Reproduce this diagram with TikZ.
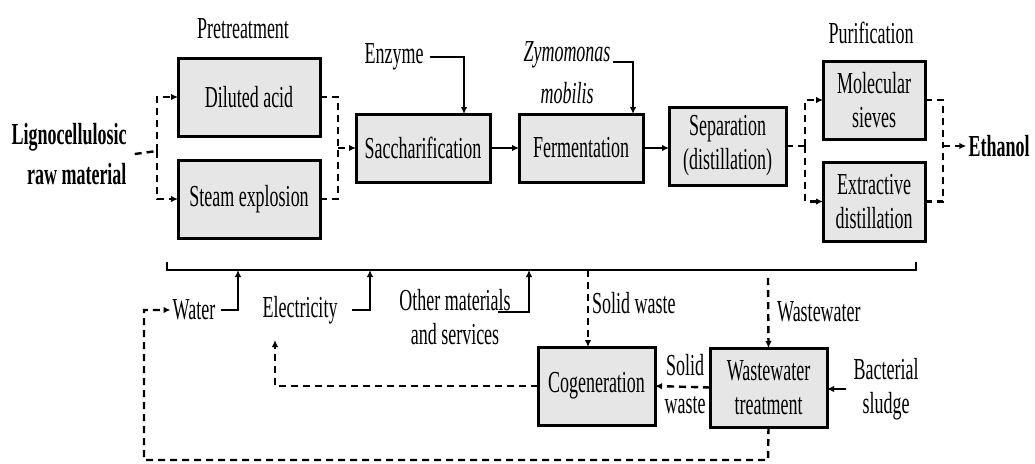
\documentclass[tikz,border=0pt]{standalone}
\usepackage{fontspec}
\setmainfont{Liberation Serif}[FakeStretch=0.59]
\usetikzlibrary{arrows.meta}
\definecolor{boxgray}{RGB}{230,230,230}
\begin{document}
\begin{tikzpicture}[x=1pt,y=-1pt,
  every node/.style={font=\fontsize{30.5}{34}\selectfont, inner sep=2pt},
  pbox/.style={draw, line width=3pt, fill=boxgray, align=center, inner sep=0pt, outer sep=0pt},
  dl/.style={line width=2.4pt, dash pattern=on 7pt off 5pt},
  sl/.style={line width=1.9pt},
  tip/.style={-{Latex[length=7pt,width=6.5pt]}},
  lab/.style={align=center}]
\useasboundingbox (0,0) rectangle (1035,463);

% boxes
\node[pbox, minimum width=142pt, minimum height=78pt] (da) at (249,97) {Diluted acid};
\node[pbox, minimum width=142pt, minimum height=78pt] (se) at (249,199) {Steam explosion};
\node[pbox, minimum width=134pt, minimum height=68pt] (sac) at (423,148) {Saccharification};
\node[pbox, minimum width=124pt, minimum height=68pt] (fer) at (581,148) {Fermentation};
\node[pbox, minimum width=117pt, minimum height=78pt] (sep) at (727.5,146) {Separation\\(distillation)};
\node[pbox, minimum width=102pt, minimum height=78pt] (ms) at (874,100) {Molecular\\sieves};
\node[pbox, minimum width=102pt, minimum height=79pt] (ed) at (874,201.5) {Extractive\\distillation};
\node[pbox, minimum width=117pt, minimum height=78pt] (cog) at (596.5,386) {Cogeneration};
\node[pbox, minimum width=117pt, minimum height=79pt] (wwt) at (768.5,387.5) {Wastewater\\treatment};

% labels
\node[align=right, font=\fontsize{30.5}{40}\selectfont\bfseries] (raw) at (69,154) {Lignocellulosic\\raw material};
\node (pre) at (243,29) {Pretreatment};
\node (pur) at (871,33) {Purification};
\node (enz) at (394,57) {Enzyme};
\node[font=\fontsize{30.5}{34}\selectfont\itshape] (zy1) at (567,55) {Zymomonas};
\node[font=\fontsize{30.5}{34}\selectfont\itshape] (zy2) at (567,93) {mobilis};
\node[font=\fontsize{30.5}{34}\selectfont\bfseries] (eth) at (999,146) {Ethanol};
\node (wat) at (194,310) {Water};
\node (ele) at (300,310) {Electricity};
\node[lab] (oth) at (455,317) {Other materials\\and services};
\node[anchor=west] (swl) at (590,303) {Solid waste};
\node[anchor=west] (wwl) at (775,312) {Wastewater};
\node (sol) at (685,365) {Solid};
\node (was) at (685,405) {waste};
\node[lab] (bac) at (886,389) {Bacterial\\sludge};

% junctions
\coordinate (j1) at (157,151);
\coordinate (j2) at (338,148);
\coordinate (j3) at (805,146);
\coordinate (j4) at (943,146);

% top flow
\draw[dl] (raw.east) ++(6,0) -- (j1);
\draw[dl,tip] (j1) |- (da.west);
\draw[dl,tip] (j1) |- (se.west);
\draw[dl] (da.east) -| (j2);
\draw[dl] (se.east) -| (j2);
\draw[dl,tip] (j2) -- (sac.west);
\draw[sl,tip] (sac.east) -- (fer.west);
\draw[sl,tip] (fer.east) -- (fer.east -| sep.west);
\draw[sl,tip] ([xshift=4pt]enz.east) -| ([xshift=41pt]sac.north);
\draw[sl,tip] ([yshift=-7pt]zy1.east) -| ([xshift=52pt]fer.north);
\draw[dl] (sep.east) -- (j3);
\draw[dl,tip] (j3) |- (ms.west);
\draw[dl,tip] (j3) |- (ed.west);
\draw[dl] (ms.east) -| (j4);
\draw[dl] (ed.east) -| (j4);
\draw[dl,tip] (j4) -- (eth.west);

% bracket
\coordinate (bl) at (167,262);
\coordinate (bl2) at (167,270);
\coordinate (br2) at (916,270);
\coordinate (br) at (916,262);
\draw[sl] (bl) -- (bl2) -- (br2) -- (br);
\coordinate (bw) at (238,270);
\coordinate (be) at (370,270);
\coordinate (bo) at (529,270);
\coordinate (bs) at (588,270);
\coordinate (bww) at (768,278);
\coordinate (oc) at (498,312);
\coordinate (ea) at (275,340);
\coordinate (lp1) at (768,460);
\coordinate (lp2) at (144,460);
\coordinate (lp3) at (144,310);

\draw[sl,tip] ([xshift=4pt]wat.east) -| (bw);
\draw[sl,tip] ([xshift=12pt]ele.east) -| (be);
\draw[sl,tip] (oc) -| (bo);
\draw[dl,tip] (bs) -- (bs |- cog.north);
\draw[dl,tip] (bww) -- (wwt.north);
\draw[dl,tip] (wwt.west) -- (cog.east);
\draw[sl,tip] ([xshift=-5pt]bac.west) -- (bac.west -| wwt.east);
\draw[dl,tip] (cog.west) -| (ea);
\draw[dl,tip] (wwt.south) -- (lp1) -- (lp2) -- (lp3) -- (wat.west);
\end{tikzpicture}
\end{document}
